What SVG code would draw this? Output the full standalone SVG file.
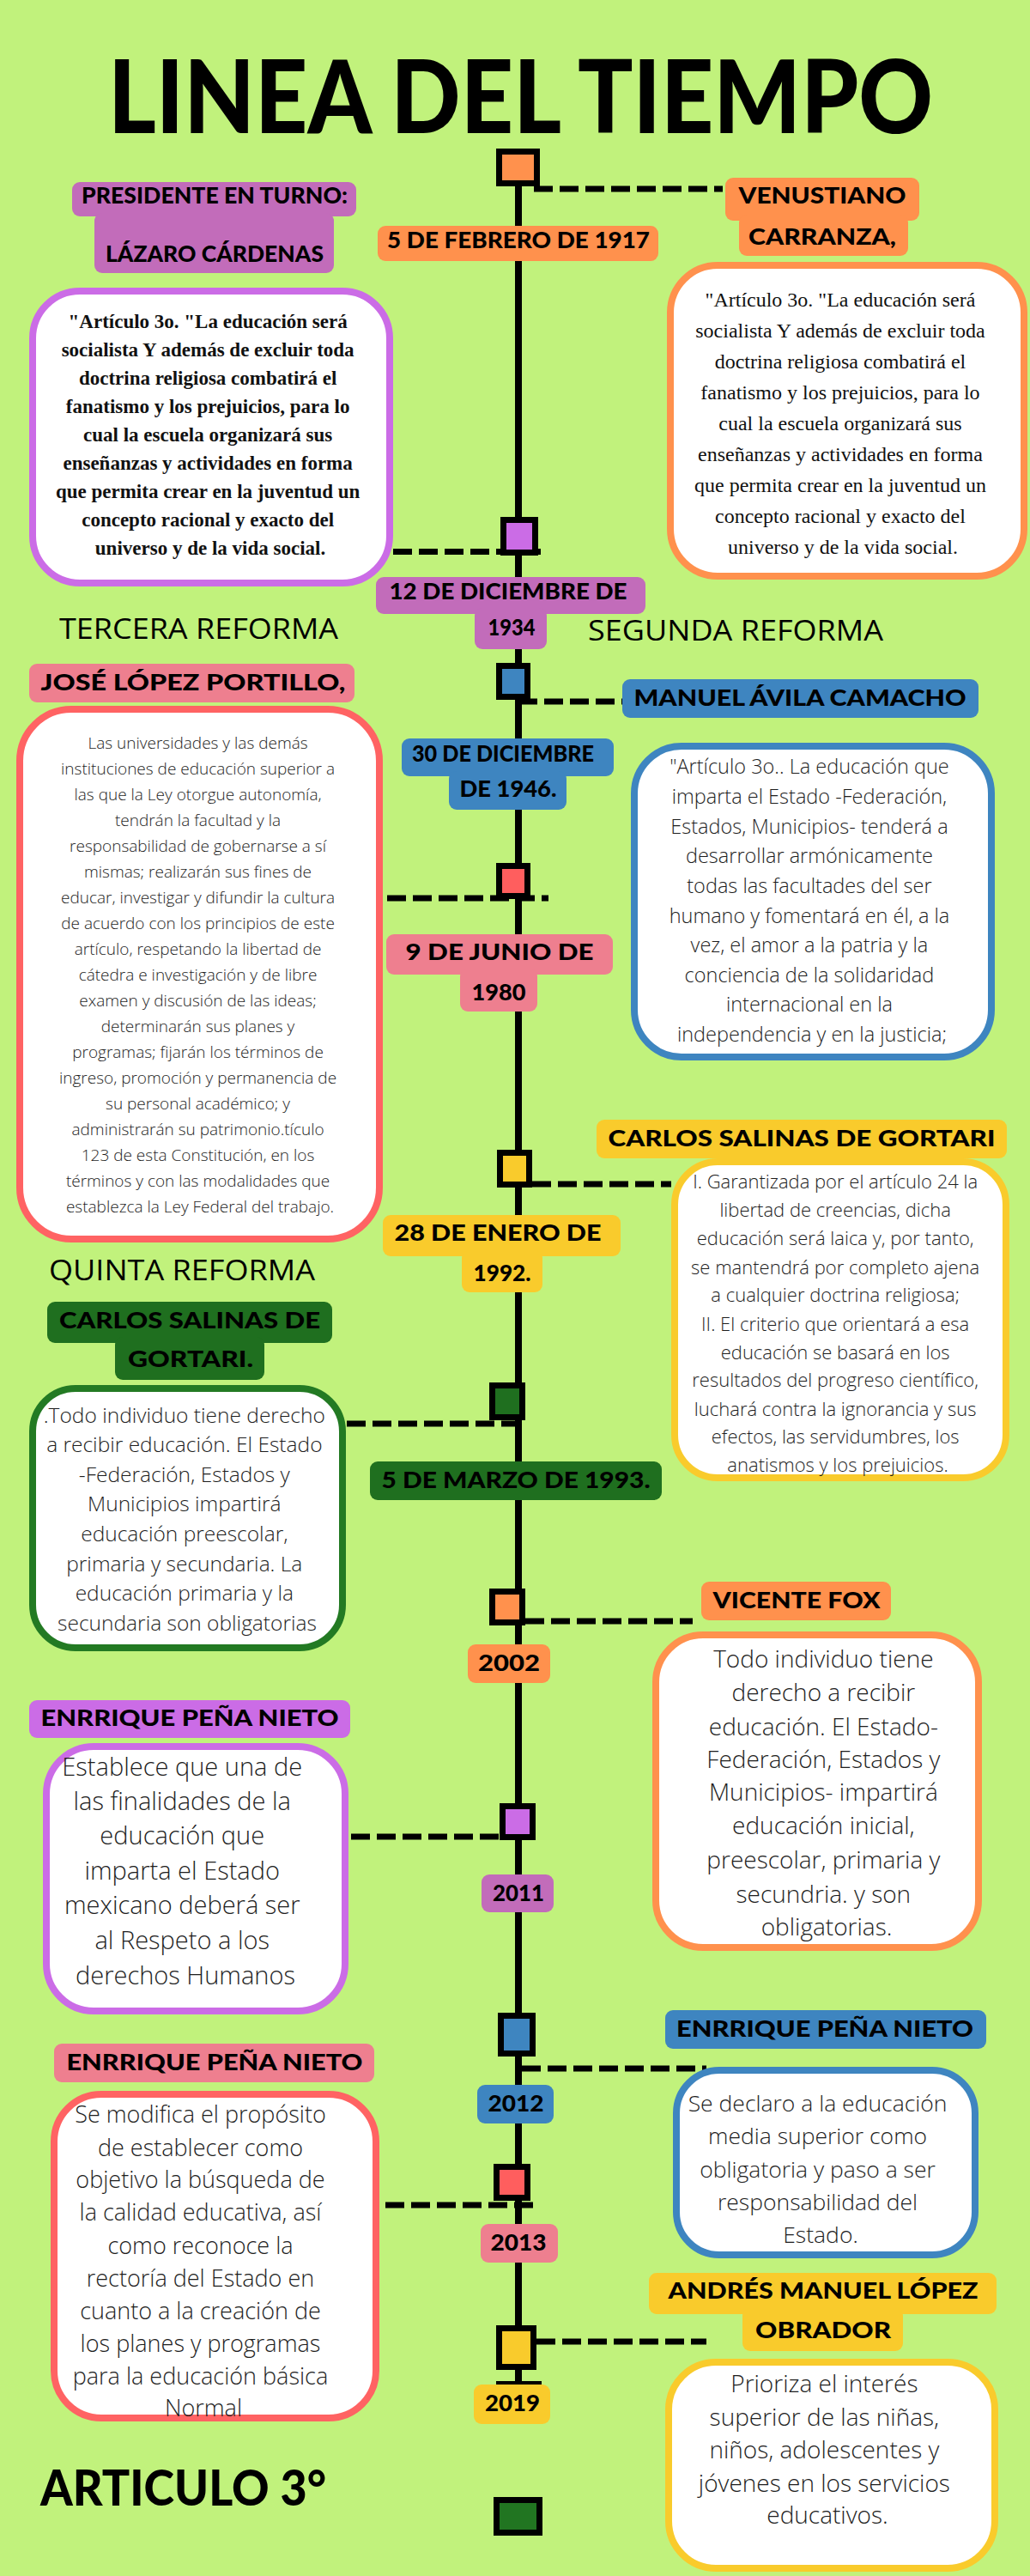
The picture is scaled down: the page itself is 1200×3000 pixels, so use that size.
<svg xmlns="http://www.w3.org/2000/svg" width="1200" height="3000" viewBox="0 0 1200 3000">
<style>
.lbl{font-family:Lato,"Liberation Sans",sans-serif;font-weight:900;font-size:27px;fill:#000;text-anchor:middle}
.title{font-family:Lato,"Liberation Sans",sans-serif;font-weight:900;fill:#000}
.ref{font-family:"Open Sans","Liberation Sans",sans-serif;font-weight:400;font-size:33px;fill:#000}
.ser{font-family:"Liberation Serif",serif;text-anchor:middle;fill:#111}
.sans{font-family:"Open Sans","Liberation Sans",sans-serif;font-weight:300;text-anchor:middle;fill:#1e1e1e}
.dash{stroke:#000;stroke-width:7;stroke-dasharray:22 8;fill:none}
.sq{stroke:#000;stroke-width:7}
.box{fill:#fff;stroke-width:8}
.orange{fill:#FF914D}.mauve{fill:#C26CBA}.purple{fill:#CB6CE6}.blue{fill:#3E85C0}.pink{fill:#EE7F8F}.red{fill:#FF5E5E}.yellow{fill:#F9CB2C}.green{fill:#1F6F1F}
</style>
<rect x="0" y="0" width="1200" height="3000" fill="#C1F27C"/>

<g id="connectors">
<line x1="604" y1="215" x2="604" y2="2776" stroke="#000" stroke-width="8"/>
<line x1="578" y1="2776" x2="631" y2="2776" stroke="#000" stroke-width="6"/>
<path class="dash" d="M622 220H842"/>
<path class="dash" d="M458 642.5H631"/>
<path class="dash" d="M604 817H725"/>
<path class="dash" d="M421 1046H639"/>
<path class="dash" d="M620 1379H782"/>
<path class="dash" d="M404 1658H600"/>
<path class="dash" d="M612 1888H807"/>
<path class="dash" d="M409 2139H582"/>
<path class="dash" d="M608 2409H823"/>
<path class="dash" d="M419 2568H621"/>
<path class="dash" d="M625 2727H823"/>
</g>

<g id="title"><text class="title" x="126" y="155" font-size="118" textLength="961" lengthAdjust="spacingAndGlyphs">LINEA DEL TIEMPO</text></g>

<g id="markers">
<rect class="sq orange" x="581.5" y="176.5" width="44" height="37"/>
<rect class="sq purple" x="586.5" y="605.5" width="37" height="38"/>
<rect class="sq blue" x="581.5" y="775.5" width="33" height="36"/>
<rect class="sq red" x="581.5" y="1008.5" width="33" height="35"/>
<rect class="sq yellow" x="582.5" y="1342.5" width="34" height="37"/>
<rect class="sq green" x="573.5" y="1613.5" width="35" height="37"/>
<rect class="sq orange" x="573.5" y="1853.5" width="35" height="36"/>
<rect class="sq purple" x="585.5" y="2103.5" width="35" height="36"/>
<rect class="sq blue" x="583.5" y="2347.5" width="37" height="44"/>
<rect class="sq red" x="578.5" y="2523.5" width="36" height="36"/>
<rect class="sq yellow" x="581.5" y="2711.5" width="40" height="45"/>
<rect class="sq" x="578.5" y="2911.5" width="50" height="38" fill="#217521"/>
</g>

<g id="node-presidente">
<rect class="mauve" x="84" y="212" width="331" height="40" rx="9"/>
<rect class="mauve" x="110" y="248" width="279" height="70" rx="9"/>
<text class="lbl" x="250" y="237" textLength="310" lengthAdjust="spacingAndGlyphs">PRESIDENTE EN TURNO:</text>
<text class="lbl" x="250" y="305" textLength="254" lengthAdjust="spacingAndGlyphs">LÁZARO CÁRDENAS</text>
</g>
<g id="node-1917">
<rect class="orange" x="440" y="263" width="327" height="41" rx="9"/>
<text class="lbl" x="604" y="289" textLength="306" lengthAdjust="spacingAndGlyphs">5 DE FEBRERO DE 1917</text>
</g>
<g id="node-carranza">
<rect class="orange" x="845" y="207" width="226" height="50" rx="9"/>
<rect class="orange" x="861" y="250" width="197" height="48" rx="9"/>
<text class="lbl" x="958" y="237" textLength="195" lengthAdjust="spacingAndGlyphs">VENUSTIANO</text>
<text class="lbl" x="958" y="285" textLength="172" lengthAdjust="spacingAndGlyphs">CARRANZA,</text>
</g>
<g id="box-cardenas">
<rect class="box" x="38" y="339" width="416" height="340" rx="55" stroke="#CB6CE6"/>
<text class="ser" font-size="23" font-weight="bold">
<tspan x="245" y="382">"Artículo 3o. "La educación será</tspan>
<tspan x="245" y="415">socialista Y además de excluir toda</tspan>
<tspan x="245" y="448">doctrina religiosa combatirá el</tspan>
<tspan x="245" y="481">fanatismo y los prejuicios, para lo</tspan>
<tspan x="245" y="514">cual la escuela organizará sus</tspan>
<tspan x="245" y="547">enseñanzas y actividades en forma</tspan>
<tspan x="245" y="580">que permita crear en la juventud un</tspan>
<tspan x="245" y="613">concepto racional y exacto del</tspan>
<tspan x="245" y="646">universo y de la vida social.</tspan>
</text>
</g>
<g id="box-carranza">
<rect class="box" x="781" y="309" width="412" height="362" rx="55" stroke="#FF914D"/>
<text class="ser" font-size="24">
<tspan x="982" y="357">"Artículo 3o. "La educación será</tspan>
<tspan x="982" y="393">socialista Y además de excluir toda</tspan>
<tspan x="982" y="429">doctrina religiosa combatirá el</tspan>
<tspan x="982" y="465">fanatismo y los prejuicios, para lo</tspan>
<tspan x="982" y="501">cual la escuela organizará sus</tspan>
<tspan x="982" y="537">enseñanzas y actividades en forma</tspan>
<tspan x="982" y="573">que permita crear en la juventud un</tspan>
<tspan x="982" y="609">concepto racional y exacto del</tspan>
<tspan x="982" y="645">universo y de la vida social.</tspan>
</text>
</g>
<g id="node-1934">
<rect class="mauve" x="438" y="672" width="314" height="43" rx="9"/>
<rect class="mauve" x="553" y="708" width="84" height="48" rx="9"/>
<text class="lbl" x="592" y="698" textLength="277" lengthAdjust="spacingAndGlyphs">12 DE DICIEMBRE DE</text>
<text class="lbl" x="596" y="740" textLength="55" lengthAdjust="spacingAndGlyphs">1934</text>
</g>
<g id="reformas-1">
<text class="ref" x="69" y="744" textLength="325" lengthAdjust="spacingAndGlyphs">TERCERA REFORMA</text>
<text class="ref" x="685" y="746" textLength="344" lengthAdjust="spacingAndGlyphs">SEGUNDA REFORMA</text>
</g>
<g id="node-portillo">
<rect class="pink" x="34" y="773" width="379" height="45" rx="9"/>
<text class="lbl" x="225" y="804" textLength="355" lengthAdjust="spacingAndGlyphs">JOSÉ LÓPEZ PORTILLO,</text>
</g>
<g id="node-avila">
<rect class="blue" x="725" y="791" width="415" height="45" rx="9"/>
<text class="lbl" x="932" y="822" textLength="387" lengthAdjust="spacingAndGlyphs">MANUEL ÁVILA CAMACHO</text>
</g>
<g id="node-1946">
<rect class="blue" x="468" y="860" width="247" height="44" rx="9"/>
<rect class="blue" x="523" y="898" width="137" height="45" rx="9"/>
<text class="lbl" x="586" y="887" font-size="24" textLength="212" lengthAdjust="spacingAndGlyphs">30 DE DICIEMBRE</text>
<text class="lbl" x="592" y="928" textLength="113" lengthAdjust="spacingAndGlyphs">DE 1946.</text>
</g>
<g id="box-portillo">
<rect class="box" x="23" y="826" width="419" height="617" rx="60" stroke="#FF6363"/>
<text class="sans" font-size="19">
<tspan x="233" y="872">Las universidades y las demás</tspan>
<tspan x="233" y="902">instituciones de educación superior a</tspan>
<tspan x="233" y="932">las que la Ley otorgue autonomía,</tspan>
<tspan x="233" y="962">tendrán la facultad y la</tspan>
<tspan x="233" y="992">responsabilidad de gobernarse a sí</tspan>
<tspan x="233" y="1022">mismas; realizarán sus fines de</tspan>
<tspan x="233" y="1052">educar, investigar y difundir la cultura</tspan>
<tspan x="233" y="1082">de acuerdo con los principios de este</tspan>
<tspan x="233" y="1112">artículo, respetando la libertad de</tspan>
<tspan x="233" y="1142">cátedra e investigación y de libre</tspan>
<tspan x="233" y="1172">examen y discusión de las ideas;</tspan>
<tspan x="233" y="1202">determinarán sus planes y</tspan>
<tspan x="233" y="1232">programas; fijarán los términos de</tspan>
<tspan x="233" y="1262">ingreso, promoción y permanencia de</tspan>
<tspan x="233" y="1292">su personal académico; y</tspan>
<tspan x="233" y="1322">administrarán su patrimonio.tículo</tspan>
<tspan x="233" y="1352">123 de esta Constitución, en los</tspan>
<tspan x="233" y="1382">términos y con las modalidades que</tspan>
<tspan x="233" y="1412">establezca la Ley Federal del trabajo.</tspan>
</text>
</g>
<g id="box-avila">
<rect class="box" x="739" y="869" width="416" height="362" rx="55" stroke="#3E85C0"/>
<text class="sans" font-size="23.5">
<tspan x="946" y="901">"Artículo 3o.. La educación que</tspan>
<tspan x="946" y="936">imparta el Estado -Federación,</tspan>
<tspan x="946" y="971">Estados, Municipios- tenderá a</tspan>
<tspan x="946" y="1005">desarrollar armónicamente</tspan>
<tspan x="946" y="1040">todas las facultades del ser</tspan>
<tspan x="946" y="1075">humano y fomentará en él, a la</tspan>
<tspan x="946" y="1109">vez, el amor a la patria y la</tspan>
<tspan x="946" y="1144">conciencia de la solidaridad</tspan>
<tspan x="946" y="1178">internacional en la</tspan>
<tspan x="946" y="1213">independencia y en la justicia;</tspan>
</text>
</g>
<g id="node-1980">
<rect class="pink" x="450" y="1088" width="264" height="47" rx="9"/>
<rect class="pink" x="536" y="1128" width="90" height="50" rx="9"/>
<text class="lbl" x="582" y="1118" textLength="219" lengthAdjust="spacingAndGlyphs">9 DE JUNIO DE</text>
<text class="lbl" x="581" y="1165" textLength="63" lengthAdjust="spacingAndGlyphs">1980</text>
</g>
<g id="node-salinas-1">
<rect class="yellow" x="695" y="1304" width="478" height="45" rx="9"/>
<text class="lbl" x="934" y="1335" textLength="451" lengthAdjust="spacingAndGlyphs">CARLOS SALINAS DE GORTARI</text>
</g>
<g id="box-salinas-1">
<rect class="box" x="786" y="1353" width="386" height="368" rx="50" stroke="#F9CB2C"/>
<text class="sans" font-size="22">
<tspan x="976" y="1384">I. Garantizada por el artículo 24 la</tspan>
<tspan x="976" y="1417">libertad de creencias, dicha</tspan>
<tspan x="976" y="1450">educación será laica y, por tanto,</tspan>
<tspan x="976" y="1484">se mantendrá por completo ajena</tspan>
<tspan x="976" y="1516">a cualquier doctrina religiosa;</tspan>
<tspan x="976" y="1550">II. El criterio que orientará a esa</tspan>
<tspan x="976" y="1583">educación se basará en los</tspan>
<tspan x="976" y="1615">resultados del progreso científico,</tspan>
<tspan x="976" y="1649">luchará contra la ignorancia y sus</tspan>
<tspan x="976" y="1681">efectos, las servidumbres, los</tspan>
<tspan x="976" y="1714">anatismos y los prejuicios.</tspan>
</text>
</g>
<g id="node-1992">
<rect class="yellow" x="446" y="1415" width="277" height="48" rx="9"/>
<rect class="yellow" x="538" y="1456" width="94" height="49" rx="9"/>
<text class="lbl" x="580" y="1445" textLength="241" lengthAdjust="spacingAndGlyphs">28 DE ENERO DE</text>
<text class="lbl" x="585" y="1492" textLength="67" lengthAdjust="spacingAndGlyphs">1992.</text>
</g>
<g id="reformas-2">
<text class="ref" x="57" y="1491" textLength="310" lengthAdjust="spacingAndGlyphs">QUINTA REFORMA</text>
</g>
<g id="node-salinas-2">
<rect class="green" x="55" y="1516" width="332" height="48" rx="9"/>
<rect class="green" x="134" y="1557" width="174" height="50" rx="9"/>
<text class="lbl" x="221" y="1547" textLength="304" lengthAdjust="spacingAndGlyphs">CARLOS SALINAS DE</text>
<text class="lbl" x="222" y="1592" textLength="146" lengthAdjust="spacingAndGlyphs">GORTARI.</text>
</g>
<g id="box-salinas-2">
<rect class="box" x="38" y="1617" width="361" height="302" rx="50" stroke="#237A23"/>
<text class="sans" font-size="24.5">
<tspan x="218" y="1657">.Todo individuo tiene derecho</tspan>
<tspan x="218" y="1691">a recibir educación. El Estado</tspan>
<tspan x="218" y="1726">-Federación, Estados y</tspan>
<tspan x="218" y="1760">Municipios impartirá</tspan>
<tspan x="218" y="1795">educación preescolar,</tspan>
<tspan x="218" y="1830">primaria y secundaria. La</tspan>
<tspan x="218" y="1864">educación primaria y la</tspan>
<tspan x="218" y="1899">secundaria son obligatorias</tspan>
</text>
</g>
<g id="node-1993">
<rect class="green" x="431" y="1702" width="340" height="45" rx="9"/>
<text class="lbl" x="601" y="1733" textLength="313" lengthAdjust="spacingAndGlyphs">5 DE MARZO DE 1993.</text>
</g>
<g id="node-fox">
<rect class="orange" x="817" y="1842" width="221" height="45" rx="9"/>
<text class="lbl" x="928" y="1873" textLength="195" lengthAdjust="spacingAndGlyphs">VICENTE FOX</text>
</g>
<g id="node-2002">
<rect class="orange" x="545" y="1915" width="96" height="45" rx="9"/>
<text class="lbl" x="593" y="1946" textLength="72" lengthAdjust="spacingAndGlyphs">2002</text>
</g>
<g id="box-fox">
<rect class="box" x="764" y="1904" width="376" height="364" rx="55" stroke="#FF914D"/>
<text class="sans" font-size="28">
<tspan x="963" y="1942">Todo individuo tiene</tspan>
<tspan x="963" y="1981">derecho a recibir</tspan>
<tspan x="963" y="2021">educación. El Estado-</tspan>
<tspan x="963" y="2059">Federación, Estados y</tspan>
<tspan x="963" y="2097">Municipios- impartirá</tspan>
<tspan x="963" y="2136">educación inicial,</tspan>
<tspan x="963" y="2176">preescolar, primaria y</tspan>
<tspan x="963" y="2216">secundria. y son</tspan>
<tspan x="963" y="2254">obligatorias.</tspan>
</text>
</g>
<g id="node-pena-1">
<rect class="purple" x="34" y="1980" width="374" height="44" rx="9"/>
<text class="lbl" x="221" y="2010" textLength="347" lengthAdjust="spacingAndGlyphs">ENRRIQUE PEÑA NIETO</text>
</g>
<g id="box-pena-1">
<rect class="box" x="54" y="2034" width="348" height="308" rx="55" stroke="#CB6CE6"/>
<text class="sans" font-size="29">
<tspan x="216" y="2068">Establece que una de</tspan>
<tspan x="216" y="2108">las finalidades de la</tspan>
<tspan x="216" y="2148">educación que</tspan>
<tspan x="216" y="2189">imparta el Estado</tspan>
<tspan x="216" y="2229">mexicano deberá ser</tspan>
<tspan x="216" y="2270">al Respeto a los</tspan>
<tspan x="216" y="2311">derechos Humanos</tspan>
</text>
</g>
<g id="node-2011">
<rect class="mauve" x="561" y="2183" width="84" height="44" rx="9"/>
<text class="lbl" x="604" y="2214" textLength="60" lengthAdjust="spacingAndGlyphs">2011</text>
</g>
<g id="node-pena-2">
<rect class="blue" x="775" y="2341" width="374" height="45" rx="9"/>
<text class="lbl" x="961" y="2372" textLength="346" lengthAdjust="spacingAndGlyphs">ENRRIQUE PEÑA NIETO</text>
</g>
<g id="node-pena-3">
<rect class="pink" x="63" y="2380" width="373" height="45" rx="9"/>
<text class="lbl" x="250" y="2411" textLength="345" lengthAdjust="spacingAndGlyphs">ENRRIQUE PEÑA NIETO</text>
</g>
<g id="node-2012">
<rect class="blue" x="556" y="2428" width="89" height="45" rx="9"/>
<text class="lbl" x="601" y="2459" textLength="65" lengthAdjust="spacingAndGlyphs">2012</text>
</g>
<g id="box-pena-2">
<rect class="box" x="788" y="2411" width="348" height="215" rx="50" stroke="#3E85C0"/>
<text class="sans" font-size="26.5">
<tspan x="956" y="2459">Se declaro a la educación</tspan>
<tspan x="956" y="2497">media superior como</tspan>
<tspan x="956" y="2536">obligatoria y paso a ser</tspan>
<tspan x="956" y="2574">responsabilidad del</tspan>
<tspan x="956" y="2612">Estado.</tspan>
</text>
</g>
<g id="box-pena-3">
<rect class="box" x="63" y="2439" width="375" height="377" rx="55" stroke="#FF6363"/>
<text class="sans" font-size="27">
<tspan x="237" y="2472">Se modifica el propósito</tspan>
<tspan x="237" y="2511">de establecer como</tspan>
<tspan x="237" y="2548">objetivo la búsqueda de</tspan>
<tspan x="237" y="2586">la calidad educativa, así</tspan>
<tspan x="237" y="2625">como reconoce la</tspan>
<tspan x="237" y="2663">rectoría del Estado en</tspan>
<tspan x="237" y="2701">cuanto a la creación de</tspan>
<tspan x="237" y="2739">los planes y programas</tspan>
<tspan x="237" y="2777">para la educación básica</tspan>
<tspan x="237" y="2814">Normal</tspan>
</text>
</g>
<g id="node-2013">
<rect class="pink" x="560" y="2590" width="90" height="45" rx="9"/>
<text class="lbl" x="604" y="2621" textLength="65" lengthAdjust="spacingAndGlyphs">2013</text>
</g>
<g id="node-amlo">
<rect class="yellow" x="756" y="2647" width="405" height="48" rx="9"/>
<rect class="yellow" x="865" y="2688" width="187" height="50" rx="9"/>
<text class="lbl" x="959" y="2677" textLength="361" lengthAdjust="spacingAndGlyphs">ANDRÉS MANUEL LÓPEZ</text>
<text class="lbl" x="959" y="2723" textLength="158" lengthAdjust="spacingAndGlyphs">OBRADOR</text>
</g>
<g id="node-2019">
<rect class="yellow" x="552" y="2777" width="89" height="46" rx="9"/>
<text class="lbl" x="597" y="2808" textLength="64" lengthAdjust="spacingAndGlyphs">2019</text>
</g>
<g id="box-amlo">
<rect class="box" x="779" y="2751" width="380" height="240" rx="55" stroke="#F9CB2C"/>
<text class="sans" font-size="28">
<tspan x="964" y="2786">Prioriza el interés</tspan>
<tspan x="964" y="2825">superior de las niñas,</tspan>
<tspan x="964" y="2863">niños, adolescentes y</tspan>
<tspan x="964" y="2902">jóvenes en los servicios</tspan>
<tspan x="964" y="2939">educativos.</tspan>
</text>
</g>
<g id="footer"><text class="title" x="47" y="2918" font-size="57" textLength="333" lengthAdjust="spacingAndGlyphs">ARTICULO 3°</text></g>
</svg>
